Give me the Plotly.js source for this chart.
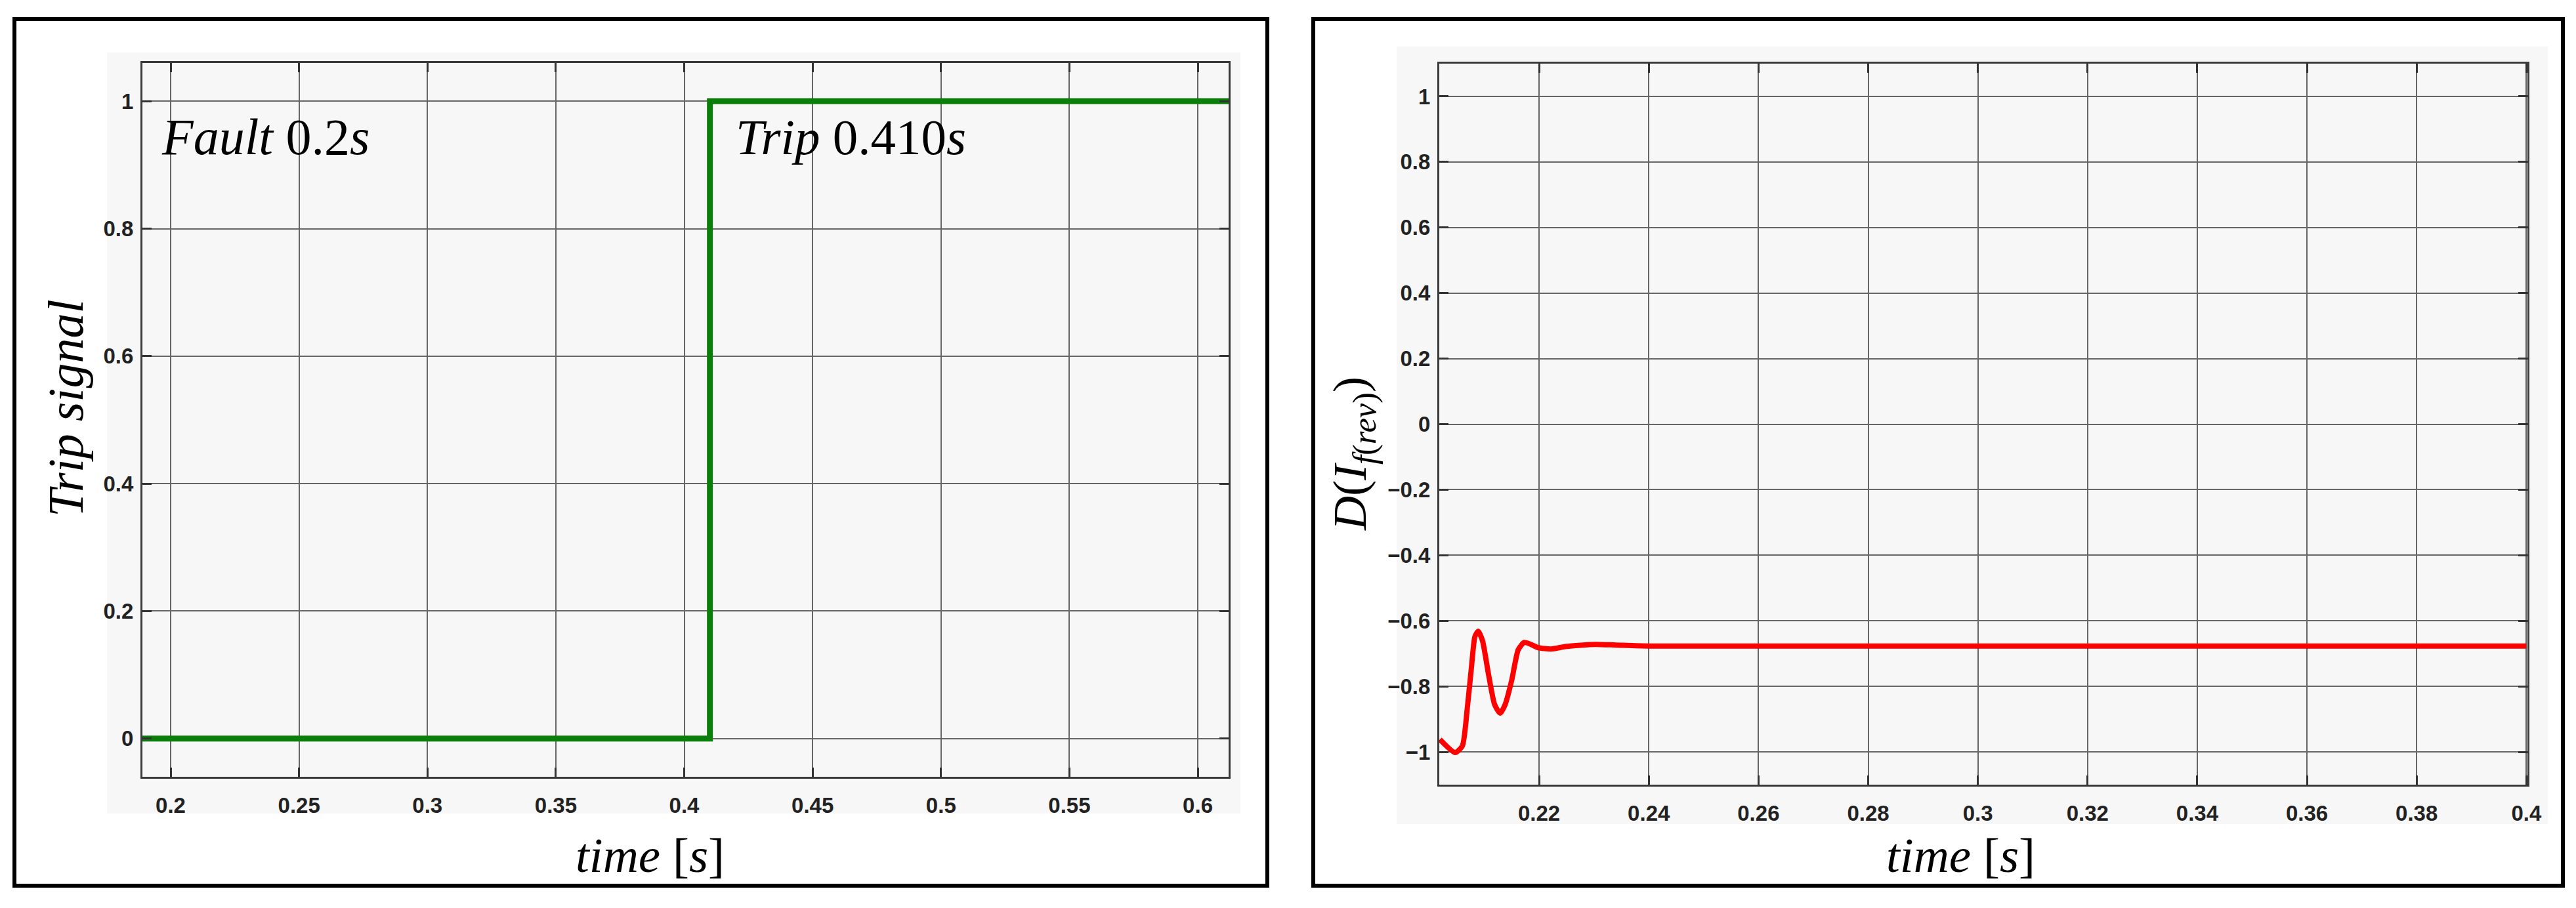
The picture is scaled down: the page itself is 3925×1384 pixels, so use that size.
<!DOCTYPE html>
<html>
<head>
<meta charset="utf-8">
<script src="https://cdn.plot.ly/plotly-3.0.1.min.js"></script>
<style>
  html, body { margin: 0; padding: 0; background: #fff; }
  #chart { width: 3925px; height: 1384px; }
</style>
</head>
<body>
<div id="chart"></div>
<script>
// Left panel: trip signal (step at 0.410 s)
var tripTime = [0.189, 0.410, 0.612];
var tripSignal = [0, 1, 1];

// Right panel: D(I_f(rev))
var devTime = [0.2019, 0.2047, 0.2060, 0.2069, 0.2077, 0.2083, 0.2089, 0.2097, 0.2107,
               0.2119, 0.2129, 0.2138, 0.2150, 0.2162, 0.2173, 0.2185, 0.2198, 0.2222,
               0.2250, 0.2302, 0.2340, 0.2400, 0.2600, 0.3000, 0.3500, 0.4000];
var devValue = [-0.962, -1.002, -0.982, -0.868, -0.736, -0.648, -0.632, -0.662, -0.756,
                -0.856, -0.882, -0.856, -0.782, -0.688, -0.666, -0.672, -0.682, -0.686,
                -0.678, -0.672, -0.674, -0.677, -0.677, -0.677, -0.677, -0.677];

var W = 3925, H = 1384;
function fx(p) { return p / W; }
function fy(p) { return 1 - p / H; }

var serif = "Liberation Serif, Times New Roman, serif";
var tickFont = {family: "Liberation Sans, Arial, sans-serif", size: 33, color: "#222", weight: "bold"};

var traces = [
  {
    x: tripTime, y: tripSignal, type: "scatter", mode: "lines",
    line: {color: "#0a7d0a", width: 9, shape: "hv"},
    xaxis: "x", yaxis: "y", hoverinfo: "skip"
  },
  {
    x: devTime, y: devValue, type: "scatter", mode: "lines",
    line: {color: "#ff0000", width: 8, shape: "spline", smoothing: 0.6},
    xaxis: "x2", yaxis: "y2", hoverinfo: "skip"
  }
];

function axisStyle(extra) {
  var base = {
    showgrid: true, gridcolor: "#666", gridwidth: 2,
    zeroline: false, showline: true, linecolor: "#3a3a3a", linewidth: 3,
    mirror: "ticks", ticks: "inside", ticklen: 14, tickwidth: 3, tickcolor: "#333",
    tickfont: tickFont, fixedrange: true
  };
  for (var k in extra) base[k] = extra[k];
  return base;
}

var layout = {
  width: W, height: H,
  margin: {l: 0, r: 0, t: 0, b: 0},
  paper_bgcolor: "#ffffff",
  plot_bgcolor: "#f7f7f7",
  showlegend: false,
  xaxis: axisStyle({domain: [fx(217), fx(1872)], range: [0.189, 0.612], anchor: "y",
                    tick0: 0.2, dtick: 0.05, ticklabelstandoff: 12}),
  yaxis: axisStyle({domain: [fy(1184), fy(96)], range: [-0.06, 1.06], anchor: "x",
                    dtick: 0.2, ticklabelstandoff: 4}),
  xaxis2: axisStyle({domain: [fx(2193), fx(3851)], range: [0.2018, 0.4002], anchor: "y2",
                     tick0: 0.2, dtick: 0.02, ticklabelstandoff: 12}),
  yaxis2: axisStyle({domain: [fy(1196), fy(97)], range: [-1.1, 1.1], anchor: "x2",
                     dtick: 0.2, ticklabelstandoff: 4}),
  shapes: [
    // light grey figure backgrounds
    {type: "rect", xref: "paper", yref: "paper", layer: "below",
     x0: fx(163), x1: fx(1890), y0: fy(1240), y1: fy(80),
     fillcolor: "#f7f7f7", line: {width: 0}},
    {type: "rect", xref: "paper", yref: "paper", layer: "below",
     x0: fx(2128), x1: fx(3882), y0: fy(1256), y1: fy(71),
     fillcolor: "#f7f7f7", line: {width: 0}},
    // black frames
    {type: "rect", xref: "paper", yref: "paper",
     x0: fx(22), x1: fx(1931), y0: fy(1350), y1: fy(29),
     line: {color: "#000", width: 6}},
    {type: "rect", xref: "paper", yref: "paper",
     x0: fx(2001), x1: fx(3905), y0: fy(1350), y1: fy(29),
     line: {color: "#000", width: 6}}
  ],
  annotations: [
    {xref: "x", yref: "y", x: 0.196, y: 0.944, xanchor: "left", yanchor: "middle",
     text: "<i>Fault</i> 0.2<i>s</i>", showarrow: false,
     font: {family: serif, size: 78, color: "#000"}},
    {xref: "x", yref: "y", x: 0.4195, y: 0.944, xanchor: "left", yanchor: "middle",
     text: "<i>Trip</i> 0.410<i>s</i>", showarrow: false,
     font: {family: serif, size: 77, color: "#000"}},
    {xref: "paper", yref: "paper", x: fx(990), y: fy(1303), xanchor: "center", yanchor: "middle",
     text: "<i>time</i> [<i>s</i>]", showarrow: false,
     font: {family: serif, size: 75, color: "#000"}},
    {xref: "paper", yref: "paper", x: fx(2987), y: fy(1303), xanchor: "center", yanchor: "middle",
     text: "<i>time</i> [<i>s</i>]", showarrow: false,
     font: {family: serif, size: 75, color: "#000"}},
    {xref: "paper", yref: "paper", x: fx(100), y: fy(622), xanchor: "center", yanchor: "middle",
     text: "<i>Trip signal</i>", textangle: -90, showarrow: false,
     font: {family: serif, size: 76, color: "#000"}},
    {xref: "paper", yref: "paper", x: fx(2062), y: fy(692), xanchor: "center", yanchor: "middle",
     text: "<i>D</i>(<i>I</i><sub><i>f</i>(<i>rev</i>)</sub>)", textangle: -90, showarrow: false,
     font: {family: serif, size: 72, color: "#000"}}
  ]
};

Plotly.newPlot("chart", traces, layout, {displayModeBar: false, staticPlot: true});
</script>
</body>
</html>
